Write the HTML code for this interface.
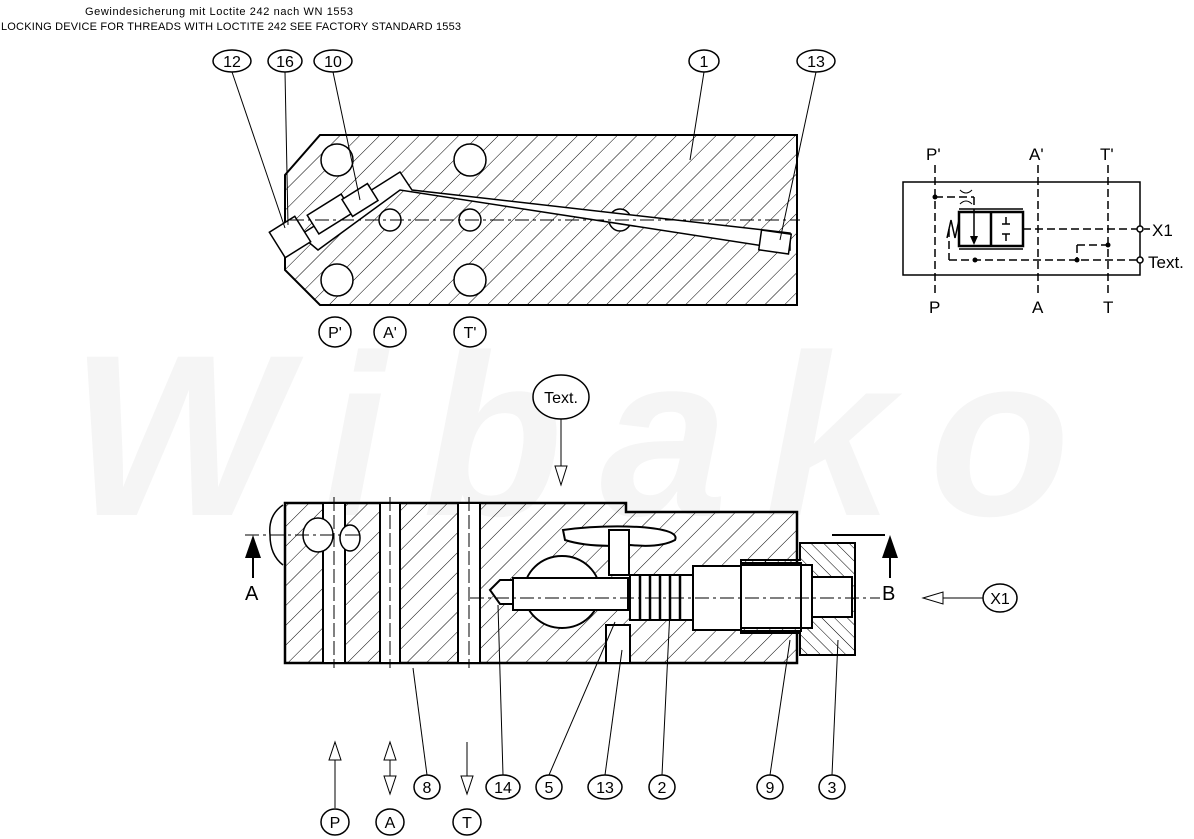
<!DOCTYPE html>
<html><head><meta charset="utf-8"><style>
html,body{margin:0;padding:0;background:#fff;}
svg{display:block}
text{font-family:"Liberation Sans",sans-serif;fill:#000}
</style></head><body>
<svg width="1194" height="839" viewBox="0 0 1194 839" xmlns="http://www.w3.org/2000/svg">
<defs>
<pattern id="h" patternUnits="userSpaceOnUse" width="14" height="14" patternTransform="rotate(45)">
<line x1="0" y1="0" x2="0" y2="14" stroke="#000" stroke-width="1"/></pattern>
<pattern id="h2" patternUnits="userSpaceOnUse" width="9" height="9" patternTransform="rotate(-45)">
<line x1="0" y1="0" x2="0" y2="9" stroke="#000" stroke-width="1"/></pattern>
</defs>
<!-- watermark -->
<text x="70" y="515" font-size="230" font-weight="bold" font-style="italic" style="fill:#f5f5f5" textLength="1000">Wibako</text>

<!-- header text -->
<text x="85" y="15" font-size="11" textLength="268">Gewindesicherung mit Loctite 242 nach WN 1553</text>
<text x="1" y="30" font-size="11" textLength="460">LOCKING DEVICE FOR THREADS WITH LOCTITE 242 SEE FACTORY STANDARD 1553</text>

<!-- top block -->
<g stroke="#000" fill="none">
<polygon points="320,135 797,135 797,305 320,305 285,270 285,175" fill="url(#h)" stroke-width="2"/>
<g fill="#fff" stroke-width="1.5">
<circle cx="337" cy="160" r="16"/><circle cx="470" cy="160" r="16"/>
<circle cx="337" cy="280" r="16"/><circle cx="470" cy="280" r="16"/>
<circle cx="390" cy="220" r="11"/><circle cx="470" cy="220" r="11"/><circle cx="620" cy="220" r="11"/>
<polygon points="300,235 400,172 412,190 790,233 790,250 400,190 318,250" />
<rect x="275" y="222" width="30" height="30" transform="rotate(-32 290 237)"/>
<rect x="310" y="203" width="40" height="22" transform="rotate(-32 330 214)"/>
<rect x="345" y="190" width="30" height="20" transform="rotate(-32 360 200)"/>
<rect x="760" y="232" width="30" height="20" transform="rotate(8 775 242)"/>
</g>
<line x1="290" y1="220" x2="800" y2="220" stroke-dasharray="14,4,3,4"/>
<line x1="232" y1="72" x2="285" y2="228"/>
<line x1="285" y1="72" x2="288" y2="225"/>
<line x1="333" y1="72" x2="360" y2="200"/>
<line x1="704" y1="72" x2="690" y2="160"/>
<line x1="816" y1="72" x2="780" y2="240"/>
</g>

<!-- balloons -->
<g stroke="#000" fill="#fff" stroke-width="1.5">
<ellipse cx="232" cy="61" rx="19" ry="11"/><ellipse cx="285" cy="61" rx="17" ry="11"/>
<ellipse cx="333" cy="61" rx="19" ry="11"/><ellipse cx="704" cy="61" rx="15" ry="11"/>
<ellipse cx="816" cy="61" rx="19" ry="11"/>
<ellipse cx="335" cy="332" rx="16" ry="15"/><ellipse cx="390" cy="332" rx="16" ry="15"/><ellipse cx="470" cy="332" rx="16" ry="15"/>
<ellipse cx="561" cy="397" rx="28" ry="22"/>
<ellipse cx="1000" cy="598" rx="17" ry="14"/>
<ellipse cx="427" cy="787" rx="13" ry="12"/><ellipse cx="503" cy="787" rx="17" ry="12"/>
<ellipse cx="549" cy="787" rx="13" ry="12"/><ellipse cx="605" cy="787" rx="17" ry="12"/>
<ellipse cx="662" cy="787" rx="13" ry="12"/><ellipse cx="770" cy="787" rx="13" ry="12"/>
<ellipse cx="832" cy="787" rx="13" ry="12"/>
<ellipse cx="335" cy="822" rx="14" ry="13"/><ellipse cx="390" cy="822" rx="14" ry="13"/><ellipse cx="467" cy="822" rx="14" ry="13"/>
</g>
<g font-size="16" text-anchor="middle">
<text x="232" y="67">12</text><text x="285" y="67">16</text><text x="333" y="67">10</text>
<text x="704" y="67">1</text><text x="816" y="67">13</text>
<text x="335" y="338">P'</text><text x="390" y="338">A'</text><text x="470" y="338">T'</text>
<text x="561" y="403">Text.</text><text x="1000" y="604">X1</text>
<text x="427" y="793">8</text><text x="503" y="793">14</text><text x="549" y="793">5</text>
<text x="605" y="793">13</text><text x="662" y="793">2</text><text x="770" y="793">9</text><text x="832" y="793">3</text>
<text x="335" y="828">P</text><text x="390" y="828">A</text><text x="467" y="828">T</text>
</g>

<!-- schematic -->
<g stroke="#000" fill="none" stroke-width="1.5">
<rect x="903" y="182" width="237" height="93"/>
<g stroke-dasharray="8,4">
<line x1="935" y1="165" x2="935" y2="295"/><line x1="1038" y1="165" x2="1038" y2="295"/><line x1="1108" y1="165" x2="1108" y2="295"/>
<line x1="935" y1="197" x2="974" y2="197"/><line x1="974" y1="197" x2="974" y2="212"/>
<line x1="1023" y1="229" x2="1137" y2="229"/>
<line x1="949" y1="229" x2="949" y2="260"/><line x1="949" y1="260" x2="1137" y2="260"/>
<line x1="1077" y1="245" x2="1077" y2="260"/><line x1="1077" y1="245" x2="1108" y2="245"/>
</g>
<rect x="959" y="212" width="64" height="34" stroke-width="2.5" fill="#fff"/>
<line x1="991" y1="212" x2="991" y2="246" stroke-width="2.5"/>
<line x1="959" y1="209" x2="1023" y2="209"/><line x1="959" y1="249" x2="1023" y2="249"/>
<line x1="974" y1="212" x2="974" y2="240"/>
<line x1="1006" y1="217" x2="1006" y2="224"/><line x1="1002" y1="224" x2="1010" y2="224"/>
<line x1="1006" y1="234" x2="1006" y2="241"/><line x1="1002" y1="234" x2="1010" y2="234"/>
<polyline points="959,220 955,238 951,220 947,238"/>
<circle cx="1140" cy="229" r="3" fill="#fff"/><circle cx="1140" cy="260" r="3" fill="#fff"/>
<line x1="1144" y1="229" x2="1150" y2="229"/>
<path d="M960,190 Q966,196 972,190 M960,204 Q966,198 972,204" stroke-width="1"/>
</g>
<polygon points="970,236 978,236 974,245" fill="#000"/>
<g fill="#000"><circle cx="935" cy="197" r="2.5"/><circle cx="975" cy="260" r="2.5"/><circle cx="1077" cy="260" r="2.5"/><circle cx="1108" cy="245" r="2.5"/></g>
<g font-size="17">
<text x="926" y="160">P'</text><text x="1029" y="160">A'</text><text x="1100" y="160">T'</text>
<text x="929" y="313">P</text><text x="1032" y="313">A</text><text x="1103" y="313">T</text>
<text x="1152" y="236">X1</text><text x="1148" y="268">Text.</text>
</g>

<!-- bottom block -->
<g stroke="#000" fill="none">
<path d="M285,503 H626 V512 H797 V663 H285 Z" fill="url(#h)" stroke-width="2.5"/>
<g fill="#fff" stroke-width="2">
<rect x="323" y="503" width="22" height="160"/>
<rect x="380" y="503" width="20" height="160"/>
<rect x="458" y="503" width="22" height="160"/>
<path d="M563,530 Q600,525 640,527 Q680,530 675,540 Q660,548 630,545 Q590,548 565,540 Z"/>
<rect x="609" y="530" width="20" height="45"/>
<ellipse cx="562" cy="592" rx="38" ry="36"/>
<path d="M490,590 L500,580 H523 V604 H500 Z"/>
<rect x="513" y="578" width="115" height="32"/>
<rect x="606" y="625" width="24" height="38"/>
<rect x="630" y="575" width="63" height="45"/>
<rect x="693" y="566" width="48" height="64"/>
<rect x="741" y="563" width="60" height="68"/>
</g>
<path d="M800,543 H855 V655 H800 V633 H741 V628 H812 V565 H741 V560 H800 Z" fill="url(#h2)" stroke-width="2"/>
<rect x="812" y="577" width="40" height="40" fill="#fff" stroke-width="2"/>
<g stroke-width="2.5"><line x1="640" y1="576" x2="640" y2="620"/><line x1="650" y1="576" x2="650" y2="620"/><line x1="660" y1="576" x2="660" y2="620"/><line x1="670" y1="576" x2="670" y2="620"/><line x1="680" y1="576" x2="680" y2="620"/></g>
<path d="M283,505 Q268,515 270,535 Q270,555 283,565" stroke-width="1.5"/>
<ellipse cx="318" cy="535" rx="15" ry="17" fill="#fff" stroke-width="1.5"/>
<ellipse cx="350" cy="538" rx="10" ry="13" fill="#fff" stroke-width="1.5"/>
<line x1="245" y1="535" x2="360" y2="535" stroke-dasharray="14,4,3,4"/>
<line x1="470" y1="598" x2="880" y2="598" stroke-dasharray="14,4,3,4"/>
<line x1="334" y1="497" x2="334" y2="668" stroke-dasharray="14,4"/>
<line x1="390" y1="497" x2="390" y2="668" stroke-dasharray="14,4"/>
<line x1="469" y1="497" x2="469" y2="668" stroke-dasharray="14,4"/>
<line x1="832" y1="535" x2="885" y2="535" stroke-width="2"/>
<line x1="413" y1="668" x2="427" y2="775"/>
<line x1="498" y1="605" x2="503" y2="775"/>
<line x1="615" y1="622" x2="549" y2="775"/>
<line x1="622" y1="650" x2="605" y2="775"/>
<line x1="670" y1="610" x2="662" y2="775"/>
<line x1="790" y1="640" x2="770" y2="775"/>
<line x1="838" y1="640" x2="832" y2="775"/>
<line x1="561" y1="419" x2="561" y2="470"/>
<polygon points="555,466 567,466 561,485" fill="#fff"/>
<line x1="940" y1="598" x2="983" y2="598"/>
<polygon points="923,598 943,592 943,604" fill="#fff"/>
<line x1="335" y1="760" x2="335" y2="808"/><polygon points="329,760 341,760 335,742" fill="#fff"/>
<line x1="390" y1="758" x2="390" y2="778"/><polygon points="384,760 396,760 390,742" fill="#fff"/><polygon points="384,776 396,776 390,794" fill="#fff"/>
<line x1="467" y1="742" x2="467" y2="778"/><polygon points="461,776 473,776 467,794" fill="#fff"/>
<line x1="253" y1="555" x2="253" y2="578" stroke-width="2"/>
<line x1="890" y1="555" x2="890" y2="578" stroke-width="2"/>
</g>
<polygon points="245,558 261,558 253,535" fill="#000"/>
<polygon points="882,558 898,558 890,535" fill="#000"/>
<g font-size="20"><text x="245" y="600">A</text><text x="882" y="600">B</text></g>
</svg>
</body></html>
